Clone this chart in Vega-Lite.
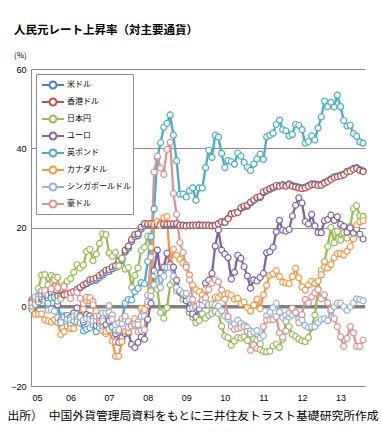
{
"$schema": "https://vega.github.io/schema/vega-lite/v6.json",
"width": 334, "height": 317,
"autosize": {"type": "none"},
"padding": {"left": 31, "top": 69, "right": 17, "bottom": 58},
"background": "white",
"config": {"view": {"stroke": null}, "font": "Noto Sans CJK JP"},
"title": {"text": "人民元レート上昇率（対主要通貨）", "subtitle": "(%)", "anchor": "start", "frame": "group", "dx": -17, "fontSize": 11.5, "fontWeight": "bold", "font": "Noto Sans CJK JP", "color": "#000", "subtitleFont": "Noto Sans CJK JP", "subtitleFontSize": 8, "subtitleColor": "#000", "subtitlePadding": 16, "offset": 5},
"layer": [
{"data": {"values": [{}]},
 "mark": {"type": "rule", "color": "#808080", "strokeWidth": 3.5},
 "encoding": {"y": {"datum": 0, "type": "quantitative", "scale": {"domain": [-20, 60], "nice": false}}}},
{"data": {"values": [
{"k":0,"米ドル":1.7,"香港ドル":1.7,"日本円":0.5,"ユーロ":-0.4,"英ポンド":-0.7,"カナダドル":0.1,"シンガポールドル":1.1,"豪ドル":1.0},
{"k":1,"米ドル":1.9,"香港ドル":1.9,"日本円":1.3,"ユーロ":0.6,"英ポンド":-1.7,"カナダドル":-1.9,"シンガポールドル":2.5,"豪ドル":0.6},
{"k":2,"米ドル":1.9,"香港ドル":1.9,"日本円":4.6,"ユーロ":2.2,"英ポンド":1.2,"カナダドル":-1.9,"シンガポールドル":2.5,"豪ドル":1.9},
{"k":3,"米ドル":2.0,"香港ドル":2.0,"日本円":8.0,"ユーロ":4.0,"英ポンド":2.4,"カナダドル":-1.8,"シンガポールドル":3.2,"豪ドル":4.0},
{"k":4,"米ドル":2.1,"香港ドル":2.1,"日本円":8.1,"ユーロ":3.3,"英ポンド":1.9,"カナダドル":-3.3,"シンガポールドル":1.5,"豪ドル":4.1},
{"k":5,"米ドル":2.2,"香港ドル":2.2,"日本円":5.5,"ユーロ":1.7,"英ポンド":0.9,"カナダドル":-3.6,"シンガポールドル":-0.9,"豪ドル":2.9},
{"k":6,"米ドル":2.4,"香港ドル":2.4,"日本円":7.9,"ユーロ":3.6,"英ポンド":2.2,"カナダドル":-3.9,"シンガポールドル":-0.7,"豪ドル":4.5},
{"k":7,"米ドル":2.6,"香港ドル":2.6,"日本円":7.5,"ユーロ":2.9,"英ポンド":2.4,"カナダドル":-3.3,"シンガポールドル":-1.1,"豪ドル":6.8},
{"k":8,"米ドル":2.7,"香港ドル":2.7,"日本円":7.4,"ユーロ":0.5,"英ポンド":1.4,"カナダドル":-4.0,"シンガポールドル":-2.8,"豪ドル":4.8},
{"k":9,"米ドル":2.7,"香港ドル":2.7,"日本円":2.5,"ユーロ":-3.4,"英ポンド":-4.1,"カナダドル":-7.0,"シンガポールドル":-4.0,"豪ドル":2.0},
{"k":10,"米ドル":3.0,"香港ドル":3.0,"日本円":5.5,"ユーロ":-2.4,"英ポンド":-2.3,"カナダドル":-6.3,"シンガポールドル":-2.6,"豪ドル":5.1},
{"k":11,"米ドル":3.1,"香港ドル":3.2,"日本円":6.5,"ユーロ":-2.3,"英ポンド":-2.2,"カナダドル":-4.9,"シンガポールドル":-3.1,"豪ドル":3.1},
{"k":12,"米ドル":3.4,"香港ドル":3.5,"日本円":7.1,"ユーロ":-2.7,"英ポンド":-4.5,"カナダドル":-5.5,"シンガポールドル":-3.3,"豪ドル":2.1},
{"k":13,"米ドル":3.8,"香港ドル":3.9,"日本円":8.7,"ユーロ":-1.6,"英ポンド":-3.6,"カナダドル":-5.5,"シンガポールドル":-2.4,"豪ドル":3.8},
{"k":14,"米ドル":4.3,"香港ドル":4.4,"日本円":10.6,"ユーロ":-0.3,"英ポンド":-2.6,"カナダドル":-3.8,"シンガポールドル":-1.9,"豪ドル":3.6},
{"k":15,"米ドル":4.8,"香港ドル":4.9,"日本円":9.8,"ユーロ":-2.2,"英ポンド":-4.1,"カナダドル":-2.4,"シンガポールドル":-2.6,"豪ドル":2.1},
{"k":16,"米ドル":5.4,"香港ドル":5.5,"日本円":10.5,"ユーロ":-3.9,"英ポンド":-6.1,"カナダドル":-0.6,"シンガポールドル":-3.3,"豪ドル":0.8},
{"k":17,"米ドル":5.8,"香港ドル":5.9,"日本円":14.0,"ユーロ":-2.0,"英ポンド":-5.7,"カナダドル":1.5,"シンガポールドル":-3.0,"豪ドル":2.4},
{"k":18,"米ドル":6.3,"香港ドル":6.8,"日本円":14.5,"ユーロ":-2.3,"英ポンド":-5.3,"カナダドル":1.5,"シンガポールドル":-3.2,"豪ドル":2.3},
{"k":19,"米ドル":6.5,"香港ドル":7.0,"日本円":11.6,"ユーロ":-2.9,"英ポンド":-4.6,"カナダドル":1.3,"シンガポールドル":-3.6,"豪ドル":0.5},
{"k":20,"米ドル":6.7,"香港ドル":7.2,"日本円":13.3,"ユーロ":-4.8,"英ポンド":-6.3,"カナダドル":-1.1,"シンガポールドル":-3.4,"豪ドル":-2.4},
{"k":21,"米ドル":7.4,"香港ドル":7.9,"日本円":16.0,"ユーロ":-4.2,"英ポンド":-5.3,"カナダドル":-3.5,"シンガポールドル":-2.8,"豪ドル":-2.3},
{"k":22,"米ドル":8.0,"香港ドル":8.5,"日本円":18.4,"ユーロ":-2.9,"英ポンド":-5.2,"カナダドル":-6.1,"シンガポールドル":-1.6,"豪ドル":-3.6},
{"k":23,"米ドル":8.7,"香港ドル":9.2,"日本円":18.2,"ユーロ":-4.5,"英ポンド":-6.4,"カナダドル":-6.8,"シンガポールドル":-1.6,"豪ドル":-6.2},
{"k":24,"米ドル":8.9,"香港ドル":9.4,"日本円":13.6,"ユーロ":-3.6,"英ポンド":-5.4,"カナダドル":-5.8,"シンガポールドル":-1.4,"豪ドル":0.3},
{"k":25,"米ドル":9.6,"香港ドル":10.1,"日本円":12.7,"ユーロ":-5.1,"英ポンド":-5.2,"カナダドル":-8.7,"シンガポールドル":-2.1,"豪ドル":-3.2},
{"k":26,"米ドル":9.9,"香港ドル":10.4,"日本円":13.7,"ユーロ":-6.8,"英ポンド":-5.9,"カナダドル":-12.5,"シンガポールドル":-4.5,"豪ドル":-8.8},
{"k":27,"米ドル":11.1,"香港ドル":11.6,"日本円":10.3,"ユーロ":-9.0,"英ポンド":-6.2,"カナダドル":-12.5,"シンガポールドル":-4.1,"豪ドル":-5.8},
{"k":28,"米ドル":11.8,"香港ドル":12.3,"日本円":12.2,"ユーロ":-7.8,"英ポンド":-3.3,"カナダドル":-8.8,"シンガポールドル":-4.2,"豪ドル":-3.0},
{"k":29,"米ドル":13.8,"香港ドル":14.3,"日本円":9.5,"ユーロ":-6.8,"英ポンド":0.9,"カナダドル":-6.2,"シンガポールドル":-3.2,"豪ドル":-2.4},
{"k":30,"米ドル":14.8,"香港ドル":15.3,"日本円":9.9,"ユーロ":-6.6,"英ポンド":1.8,"カナダドル":-6.3,"シンガポールドル":-3.7,"豪ドル":-5.3},
{"k":31,"米ドル":16.5,"香港ドル":17.0,"日本円":4.9,"ユーロ":-9.5,"英ポンド":1.7,"カナダドル":-4.9,"シンガポールドル":-4.4,"豪ドル":-4.9},
{"k":32,"米ドル":17.7,"香港ドル":18.2,"日本円":7.9,"ユーロ":-10.3,"英ポンド":3.8,"カナダドル":-3.0,"シンガポールドル":-4.7,"豪ドル":-4.4},
{"k":33,"米ドル":17.9,"香港ドル":18.4,"日本円":9.8,"ユーロ":-9.0,"英ポンド":4.6,"カナダドル":-3.8,"シンガポールドル":-4.5,"豪ドル":-6.3},
{"k":34,"米ドル":19.6,"香港ドル":20.1,"日本円":14.2,"ユーロ":-7.7,"英ポンド":6.1,"カナダドル":-0.4,"シンガポールドル":-2.5,"豪ドル":-6.0},
{"k":35,"米ドル":20.5,"香港ドル":21.0,"日本円":15.0,"ユーロ":-8.2,"英ポンド":5.8,"カナダドル":-0.7,"シンガポールドル":-2.4,"豪ドル":-5.8},
{"k":36,"米ドル":20.6,"香港ドル":20.9,"日本円":17.8,"ユーロ":-3.2,"英ポンド":11.4,"カナダドル":0.5,"シンガポールドル":1.2,"豪ドル":2.9},
{"k":37,"米ドル":20.7,"香港ドル":21.0,"日本円":15.0,"ユーロ":0.9,"英ポンド":17.7,"カナダドル":4.0,"シンガポールドル":2.7,"豪ドル":12.5},
{"k":38,"米ドル":20.6,"香港ドル":20.9,"日本円":7.9,"ユーロ":9.1,"英ポンド":24.7,"カナダドル":20.8,"シンガポールドル":5.5,"豪ドル":34.0},
{"k":39,"米ドル":20.6,"香港ドル":20.9,"日本円":4.4,"ユーロ":14.3,"英ポンド":37.7,"カナダドル":21.5,"シンガポールドル":8.4,"豪ドル":38.0},
{"k":40,"米ドル":20.7,"香港ドル":21.0,"日本円":-1.5,"ユーロ":8.5,"英ポンド":41.4,"カナダドル":20.5,"シンガポールドル":4.9,"豪ドル":35.0},
{"k":41,"米ドル":20.6,"香港ドル":20.9,"日本円":-2.9,"ユーロ":10.0,"英ポンド":45.3,"カナダドル":22.5,"シンガポールドル":7.7,"豪ドル":33.4},
{"k":42,"米ドル":20.5,"香港ドル":20.8,"日本円":-0.3,"ユーロ":13.5,"英ポンド":46.3,"カナダドル":22.8,"シンガポールドル":9.9,"豪ドル":39.7},
{"k":43,"米ドル":20.6,"香港ドル":20.9,"日本円":5.5,"ユーロ":10.8,"英ポンド":48.4,"カナダドル":10.5,"シンガポールドル":9.9,"豪ドル":41.5},
{"k":44,"米ドル":20.6,"香港ドル":20.9,"日本円":6.5,"ユーロ":10.0,"英ポンド":43.3,"カナダドル":14.5,"シンガポールドル":7.7,"豪ドル":28.6},
{"k":45,"米ドル":20.7,"香港ドル":21.0,"日本円":4.1,"ユーロ":6.7,"英ポンド":36.8,"カナダドル":13.0,"シンガポールドル":4.8,"豪ドル":23.3},
{"k":46,"米ドル":20.6,"香港ドル":20.5,"日本円":4.1,"ユーロ":3.7,"英ポンド":28.4,"カナダドル":12.0,"シンガポールドル":4.1,"豪ドル":16.2},
{"k":47,"米ドル":20.6,"香港ドル":20.5,"日本円":1.9,"ユーロ":3.0,"英ポンド":28.4,"カナダドル":11.0,"シンガポールドル":3.4,"豪ドル":13.7},
{"k":48,"米ドル":20.5,"香港ドル":20.4,"日本円":2.3,"ユーロ":1.5,"英ポンド":27.7,"カナダドル":10.5,"シンガポールドル":3.4,"豪ドル":10.0},
{"k":49,"米ドル":20.6,"香港ドル":20.5,"日本円":-1.5,"ユーロ":-0.5,"英ポンド":29.3,"カナダドル":8.0,"シンガポールドル":1.9,"豪ドル":6.8},
{"k":50,"米ドル":20.6,"香港ドル":20.5,"日本円":-2.7,"ユーロ":-1.8,"英ポンド":30.0,"カナダドル":5.5,"シンガポールドル":-0.3,"豪ドル":1.8},
{"k":51,"米ドル":20.6,"香港ドル":20.5,"日本円":-4.0,"ユーロ":-2.6,"英ポンド":26.9,"カナダドル":4.3,"シンガポールドル":-0.3,"豪ドル":0.0},
{"k":52,"米ドル":20.7,"香港ドル":20.6,"日本円":-3.5,"ユーロ":-0.5,"英ポンド":30.0,"カナダドル":3.8,"シンガポールドル":0.5,"豪ドル":0.6},
{"k":53,"米ドル":20.6,"香港ドル":20.5,"日本円":-1.8,"ユーロ":1.5,"英ポンド":30.0,"カナダドル":2.9,"シンガポールドル":0.5,"豪ドル":1.8},
{"k":54,"米ドル":20.6,"香港ドル":20.5,"日本円":-2.9,"ユーロ":6.0,"英ポンド":35.1,"カナダドル":4.3,"シンガポールドル":1.2,"豪ドル":2.3},
{"k":55,"米ドル":20.6,"香港ドル":20.5,"日本円":-2.2,"ユーロ":6.7,"英ポンド":39.5,"カナダドル":0.5,"シンガポールドル":0.5,"豪ドル":4.3},
{"k":56,"米ドル":20.5,"香港ドル":20.4,"日本円":0.7,"ユーロ":8.4,"英ポンド":37.7,"カナダドル":-1.1,"シンガポールドル":-1.7,"豪ドル":6.0},
{"k":57,"米ドル":20.6,"香港ドル":20.5,"日本円":-1.2,"ユーロ":15.3,"英ポンド":43.3,"カナダドル":2.4,"シンガポールドル":0.5,"豪ドル":6.8},
{"k":58,"米ドル":21.0,"香港ドル":20.9,"日本円":-1.7,"ユーロ":19.4,"英ポンド":42.8,"カナダドル":2.3,"シンガポールドル":0.1,"豪ドル":6.3},
{"k":59,"米ドル":21.5,"香港ドル":21.4,"日本円":-4.9,"ユーロ":14.3,"英ポンド":38.7,"カナダドル":3.1,"シンガポールドル":-1.0,"豪ドル":4.2},
{"k":60,"米ドル":21.4,"香港ドル":21.3,"日本円":-7.4,"ユーロ":13.3,"英ポンド":35.1,"カナダドル":3.1,"シンガポールドル":-2.4,"豪ドル":1.9},
{"k":61,"米ドル":22.3,"香港ドル":22.2,"日本円":-7.8,"ユーロ":12.4,"英ポンド":36.9,"カナダドル":3.3,"シンガポールドル":-3.1,"豪ドル":-2.5},
{"k":62,"米ドル":23.5,"香港ドル":23.4,"日本円":-9.7,"ユーロ":7.0,"英ポンド":36.6,"カナダドル":2.9,"シンガポールドル":-4.4,"豪ドル":-5.0},
{"k":63,"米ドル":23.7,"香港ドル":23.6,"日本円":-8.7,"ユーロ":8.7,"英ポンド":36.0,"カナダドル":1.9,"シンガポールドル":-4.3,"豪ドル":-5.7},
{"k":64,"米ドル":23.9,"香港ドル":23.8,"日本円":-7.8,"ユーロ":13.0,"英ポンド":38.8,"カナダドル":2.1,"シンガポールドル":-3.4,"豪ドル":-5.5},
{"k":65,"米ドル":24.8,"香港ドル":25.0,"日本円":-7.9,"ユーロ":12.2,"英ポンド":38.0,"カナダドル":0.8,"シンガポールドル":-4.2,"豪ドル":-5.3},
{"k":66,"米ドル":25.2,"香港ドル":25.4,"日本円":-7.6,"ユーロ":10.1,"英ポンド":36.4,"カナダドル":1.2,"シンガポールドル":-4.6,"豪ドル":-5.0},
{"k":67,"米ドル":25.4,"香港ドル":25.6,"日本円":-8.5,"ユーロ":7.8,"英ポンド":35.2,"カナダドル":-0.2,"シンガポールドル":-5.2,"豪ドル":-6.2},
{"k":68,"米ドル":26.2,"香港ドル":26.4,"日本円":-6.1,"ユーロ":4.7,"英ポンド":34.4,"カナダドル":-1.1,"シンガポールドル":-6.9,"豪ドル":-11.0},
{"k":69,"米ドル":26.8,"香港ドル":27.0,"日本円":-8.1,"ユーロ":6.8,"英ポンド":36.0,"カナダドル":0.4,"シンガポールドル":-6.4,"豪ドル":-9.7},
{"k":70,"米ドル":27.4,"香港ドル":27.6,"日本円":-8.4,"ユーロ":6.5,"英ポンド":37.3,"カナダドル":1.9,"シンガポールドル":-6.0,"豪ドル":-10.5},
{"k":71,"米ドル":27.6,"香港ドル":27.8,"日本円":-9.4,"ユーロ":7.4,"英ポンド":38.5,"カナダドル":-0.5,"シンガポールドル":-7.9,"豪ドル":-10.8},
{"k":72,"米ドル":28.8,"香港ドル":29.0,"日本円":-11.3,"ユーロ":8.4,"英ポンド":37.2,"カナダドル":3.0,"シンガポールドル":-7.3,"豪ドル":-5.0},
{"k":73,"米ドル":29.2,"香港ドル":29.4,"日本円":-11.4,"ユーロ":13.6,"英ポンド":42.9,"カナダドル":5.4,"シンガポールドル":-2.3,"豪ドル":-3.4},
{"k":74,"米ドル":29.6,"香港ドル":29.8,"日本円":-11.2,"ユーロ":13.9,"英ポンド":43.3,"カナダドル":7.9,"シンガポールドル":-1.4,"豪ドル":-3.3},
{"k":75,"米ドル":30.0,"香港ドル":30.2,"日本円":-9.9,"ユーロ":15.0,"英ポンド":43.8,"カナダドル":8.3,"シンガポールドル":-0.2,"豪ドル":-3.2},
{"k":76,"米ドル":30.4,"香港ドル":30.6,"日本円":-9.4,"ユーロ":18.9,"英ポンド":46.0,"カナダドル":9.1,"シンガポールドル":0.9,"豪ドル":-2.5},
{"k":77,"米ドル":30.6,"香港ドル":30.4,"日本円":-10.3,"ユーロ":21.8,"英ポンド":47.1,"カナダドル":7.6,"シンガポールドル":-1.3,"豪ドル":-6.6},
{"k":78,"米ドル":30.8,"香港ドル":30.6,"日本円":-8.2,"ユーロ":19.3,"英ポンド":44.7,"カナダドル":6.2,"シンガポールドル":-2.7,"豪ドル":-7.7},
{"k":79,"米ドル":30.6,"香港ドル":30.4,"日本円":-3.7,"ユーロ":19.1,"英ポンド":44.4,"カナダドル":6.0,"シンガポールドル":-2.1,"豪ドル":-6.1},
{"k":80,"米ドル":31.0,"香港ドル":30.8,"日本円":-5.0,"ユーロ":19.5,"英ポンド":43.1,"カナダドル":5.8,"シンガポールドル":-2.6,"豪ドル":-1.6},
{"k":81,"米ドル":30.6,"香港ドル":30.4,"日本円":-7.0,"ユーロ":22.9,"英ポンド":43.5,"カナダドル":7.6,"シンガポールドル":-2.1,"豪ドル":-0.4},
{"k":82,"米ドル":30.4,"香港ドル":30.2,"日本円":-7.5,"ユーロ":25.6,"英ポンド":46.0,"カナダドル":9.7,"シンガポールドル":-1.4,"豪ドル":-1.5},
{"k":83,"米ドル":30.2,"香港ドル":30.0,"日本円":-8.1,"ユーロ":27.5,"英ポンド":45.8,"カナダドル":7.3,"シンガポールドル":-3.1,"豪ドル":-4.0},
{"k":84,"米ドル":30.0,"香港ドル":29.8,"日本円":-8.6,"ユーロ":26.2,"英ポンド":44.7,"カナダドル":5.0,"シンガポールドル":-3.3,"豪ドル":-2.0},
{"k":85,"米ドル":30.2,"香港ドル":30.0,"日本円":-8.8,"ユーロ":21.5,"英ポンド":41.3,"カナダドル":4.2,"シンガポールドル":-4.7,"豪ドル":1.8},
{"k":86,"米ドル":30.6,"香港ドル":30.4,"日本円":-7.8,"ユーロ":20.9,"英ポンド":41.7,"カナダドル":5.5,"シンガポールドル":-5.2,"豪ドル":1.0},
{"k":87,"米ドル":31.0,"香港ドル":30.8,"日本円":-5.3,"ユーロ":23.3,"英ポンド":43.1,"カナダドル":6.4,"シンガポールドル":-5.0,"豪ドル":2.5},
{"k":88,"米ドル":31.0,"香港ドル":30.8,"日本円":-2.1,"ユーロ":20.4,"英ポンド":42.1,"カナダドル":5.9,"シンガポールドル":-5.0,"豪ドル":3.5},
{"k":89,"米ドル":30.8,"香港ドル":30.6,"日本円":4.5,"ユーロ":18.7,"英ポンド":45.1,"カナダドル":6.5,"シンガポールドル":-4.0,"豪ドル":4.3},
{"k":90,"米ドル":30.9,"香港ドル":30.7,"日本円":9.2,"ユーロ":18.7,"英ポンド":47.9,"カナダドル":8.1,"シンガポールドル":-3.2,"豪ドル":2.0},
{"k":91,"米ドル":31.4,"香港ドル":31.2,"日本円":11.4,"ユーロ":21.7,"英ポンド":51.9,"カナダドル":10.0,"シンガポールドル":-3.0,"豪ドル":3.0},
{"k":92,"米ドル":31.8,"香港ドル":31.6,"日本円":15.2,"ユーロ":22.0,"英ポンド":50.5,"カナダドル":9.8,"シンガポールドル":-3.5,"豪ドル":1.0},
{"k":93,"米ドル":32.3,"香港ドル":32.1,"日本円":20.0,"ユーロ":23.1,"英ポンド":51.6,"カナダドル":10.7,"シンガポールドル":-1.1,"豪ドル":-0.8},
{"k":94,"米ドル":32.8,"香港ドル":32.6,"日本円":16.1,"ユーロ":21.8,"英ポンド":50.4,"カナダドル":12.3,"シンガポールドル":0.0,"豪ドル":-3.0},
{"k":95,"米ドル":33.0,"香港ドル":32.8,"日本円":19.0,"ユーロ":22.7,"英ポンド":53.4,"カナダドル":13.4,"シンガポールドル":0.9,"豪ドル":-5.0},
{"k":96,"米ドル":33.2,"香港ドル":33.0,"日本円":16.8,"ユーロ":20.8,"英ポンド":50.5,"カナダドル":13.4,"シンガポールドル":0.9,"豪ドル":-7.6},
{"k":97,"米ドル":33.5,"香港ドル":33.3,"日本円":18.7,"ユーロ":20.3,"英ポンド":47.0,"カナダドル":13.1,"シンガポールドル":0.0,"豪ドル":-10.0},
{"k":98,"米ドル":34.2,"香港ドル":34.0,"日本円":17.3,"ユーロ":18.8,"英ポンド":45.6,"カナダドル":14.0,"シンガポールドル":-0.9,"豪ドル":-8.0},
{"k":99,"米ドル":34.4,"香港ドル":34.2,"日本円":20.3,"ユーロ":19.9,"英ポンド":45.8,"カナダドル":15.2,"シンガポールドル":0.0,"豪ドル":-5.0},
{"k":100,"米ドル":34.9,"香港ドル":34.7,"日本円":24.8,"ユーロ":18.6,"英ポンド":43.7,"カナダドル":17.1,"シンガポールドル":1.0,"豪ドル":-6.6},
{"k":101,"米ドル":35.1,"香港ドル":34.9,"日本円":25.5,"ユーロ":19.6,"英ポンド":43.0,"カナダドル":20.7,"シンガポールドル":2.0,"豪ドル":-10.0},
{"k":102,"米ドル":34.6,"香港ドル":34.4,"日本円":22.9,"ユーロ":18.3,"英ポンド":41.6,"カナダドル":21.4,"シンガポールドル":1.8,"豪ドル":-10.0},
{"k":103,"米ドル":34.3,"香港ドル":34.1,"日本円":22.8,"ユーロ":17.1,"英ポンド":41.3,"カナダドル":21.7,"シンガポールドル":1.5,"豪ドル":-8.4}
]},
 "transform": [{"fold": ["米ドル","香港ドル","日本円","ユーロ","英ポンド","カナダドル","シンガポールドル","豪ドル"], "as": ["通貨","v"]}],
 "mark": {"type": "line", "strokeWidth": 2.3, "point": {"filled": false, "fill": "white", "size": 36, "strokeWidth": 1.2}},
 "encoding": {
  "x": {"field": "k", "type": "quantitative", "scale": {"domain": [-0.3, 103.6], "nice": false, "zero": false},
        "axis": {"values": [0,12,24,36,48,60,72,84,96], "labelExpr": "['05','06','07','08','09','10','11','12','13'][round(datum.value/12)]", "grid": false, "ticks": false, "domainColor": "#8c8c8c", "labelFont": "Liberation Sans", "labelFontSize": 9, "labelColor": "#000", "labelPadding": 7,
                 "title": "出所）　中国外貨管理局資料をもとに三井住友トラスト基礎研究所作成", "titleFont": "Noto Sans CJK JP", "titleFontSize": 11.8, "titleFontWeight": "normal", "titleColor": "#000", "titleAnchor": "start", "titleAlign": "left", "titleX": -24, "titleY": 29, "titleBaseline": "middle", "titleLimit": 400}},
  "y": {"field": "v", "type": "quantitative", "scale": {"domain": [-20, 60], "nice": false},
        "axis": {"values": [-20,-10,0,10,20,30,40,50,60], "title": null, "grid": true, "gridColor": "#8c8c8c", "domainColor": "#8c8c8c", "ticks": false, "labelFont": "Liberation Sans", "labelFontSize": 9, "labelColor": "#000", "labelPadding": 5}},
  "color": {"field": "通貨", "type": "nominal",
        "scale": {"domain": ["米ドル","香港ドル","日本円","ユーロ","英ポンド","カナダドル","シンガポールドル","豪ドル"], "range": ["#4F81BD","#C0504D","#9BBB59","#8064A2","#4BACC6","#F79646","#95B3D7","#D99694"]},
        "legend": {"orient": "none", "legendX": 5, "legendY": 5, "title": null, "padding": 2, "rowPadding": 0,
                   "symbolType": "M-1.42,0L-0.45,0M0.45,0L1.42,0M-0.45,0A0.45,0.45 0 1,0 0.45,0A0.45,0.45 0 1,0 -0.45,0",
                   "symbolSize": 240, "symbolStrokeWidth": 2, "symbolOffset": 6, "labelOffset": 5,
                   "labelFont": "Noto Sans CJK JP", "labelFontSize": 8, "labelColor": "#000",
                   "strokeColor": "#8c8c8c", "fillColor": "#ffffff",
                   "encode": {"symbols": {"update": {"fill": {"value": "#ffffff"}, "strokeWidth": {"value": 2}}}}}}
 }}
]
}
